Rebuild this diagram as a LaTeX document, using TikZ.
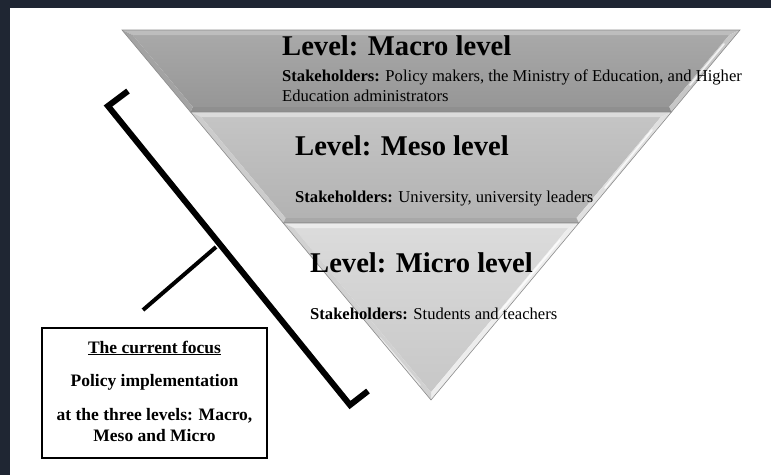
\documentclass[tikz,border=0pt]{standalone}
\usepackage{fontspec}
\setmainfont{Liberation Serif}
\definecolor{frame}{HTML}{1F2633}
\begin{document}
\begin{tikzpicture}[x=1pt,y=-1pt,
  leveltitle/.style={anchor=base west, inner sep=0pt, font=\fontsize{28.6}{32}\selectfont\bfseries},
  holders/.style={anchor=base west, inner sep=0pt, font=\fontsize{16.6}{20}\selectfont, align=left},
  focustxt/.style={inner sep=0pt, font=\fontsize{17.5}{21}\selectfont\bfseries, align=center},
  edgeline/.style={draw=black!45, line width=0.6pt},
  glint/.style={white, line width=1.8pt, line cap=round, opacity=0.75},
  bracketline/.style={line width=6pt, line join=miter},
  stemline/.style={line width=4pt},
]
\useasboundingbox (0,0) rectangle (771,475);
\fill[white] (0,0) rectangle (771,475);
\fill[frame] (0,0) rectangle (771,8);
\fill[frame] (0,0) rectangle (10,475);

% ---------- macro band ----------
\coordinate (a1) at (122,30);   \coordinate (a2) at (740,30);
\coordinate (a3) at (671.5,112); \coordinate (a4) at (190.5,112);
\coordinate (ai1) at (132.7,35); \coordinate (ai2) at (729.3,35);
\coordinate (ai3) at (669.2,107); \coordinate (ai4) at (192.8,107);
\shade[top color=black!34, bottom color=black!41] (ai1) -- (ai2) -- (ai3) -- (ai4) -- cycle;
\fill[black!26] (a1) -- (a2) -- (ai2) -- (ai1) -- cycle;
\fill[black!22] (a2) -- (a3) -- (ai3) -- (ai2) -- cycle;
\fill[black!44] (a3) -- (a4) -- (ai4) -- (ai3) -- cycle;
\fill[black!36] (a4) -- (a1) -- (ai1) -- (ai4) -- cycle;
\draw[glint] (724,44) -- (690,85);
\draw[edgeline] (a1) -- (a2) -- (a3) -- (a4) -- cycle;

% ---------- meso band ----------
\coordinate (b1) at (190.5,112); \coordinate (b2) at (671.5,112);
\coordinate (b3) at (578.8,223); \coordinate (b4) at (283.2,223);
\coordinate (bi1) at (201.1,117); \coordinate (bi2) at (660.9,117);
\coordinate (bi3) at (576.5,218); \coordinate (bi4) at (285.5,218);
\shade[top color=black!23, bottom color=black!30] (bi1) -- (bi2) -- (bi3) -- (bi4) -- cycle;
\fill[black!14] (b1) -- (b2) -- (bi2) -- (bi1) -- cycle;
\fill[black!12] (b2) -- (b3) -- (bi3) -- (bi2) -- cycle;
\fill[black!34] (b3) -- (b4) -- (bi4) -- (bi3) -- cycle;
\fill[black!20] (b4) -- (b1) -- (bi1) -- (bi4) -- cycle;
\draw[glint] (652,130) -- (605,188);
\draw[edgeline] (b1) -- (b2) -- (b3) -- (b4) -- cycle;

% ---------- micro band ----------
\coordinate (c1) at (283.2,223); \coordinate (c2) at (578.8,223);
\coordinate (c3) at (431,400);
\coordinate (ci1) at (293.8,228); \coordinate (ci2) at (568.2,228);
\coordinate (ci3) at (431,392.3);
\shade[top color=black!14, bottom color=black!22] (ci1) -- (ci2) -- (ci3) -- cycle;
\fill[black!8] (c1) -- (c2) -- (ci2) -- (ci1) -- cycle;
\fill[black!7] (c2) -- (c3) -- (ci3) -- (ci2) -- cycle;
\fill[black!18] (c3) -- (c1) -- (ci1) -- (ci3) -- cycle;
\draw[glint] (560,240) -- (500,312);
\draw[glint, opacity=0.5] (420,385) -- (380,338);
\draw[edgeline] (c1) -- (c2) -- (c3) -- cycle;

% ---------- level texts ----------
\node[leveltitle] (macro) at (282,55) {Level: Macro level};
\node[holders] (macroholders) at (282,101)
  {\textbf{Stakeholders:} Policy makers, the Ministry of Education, and Higher\\Education administrators};
\node[leveltitle] (meso) at (295,155) {Level: Meso level};
\node[holders] (mesoholders) at (295,202)
  {\textbf{Stakeholders:} University, university leaders};
\node[leveltitle] (micro) at (310,272) {Level: Micro level};
\node[holders] (microholders) at (310,319)
  {\textbf{Stakeholders:} Students and teachers};

% ---------- bracket and its stem ----------
\coordinate (k1) at (128,91);
\coordinate (k2) at (108,106);
\coordinate (k3) at (350,405);
\coordinate (k4) at (368,391);
\draw[bracketline] (k1) -- (k2) -- (k3) -- (k4);
\coordinate (stemtop) at (216,247);
\coordinate (stemend) at (143,310);
\draw[stemline] (stemtop) -- (stemend);

% ---------- focus box ----------
\node[draw, line width=1.6pt, minimum width=225pt, minimum height=130pt, inner sep=0pt]
  (focus) at (154.5,393) {};
\node[focustxt] (focustext) at (154.5,391)
  {\underline{The current focus}\\[12pt]Policy implementation\\[13pt]at the three levels: Macro,\\Meso and Micro};
\end{tikzpicture}
\end{document}
